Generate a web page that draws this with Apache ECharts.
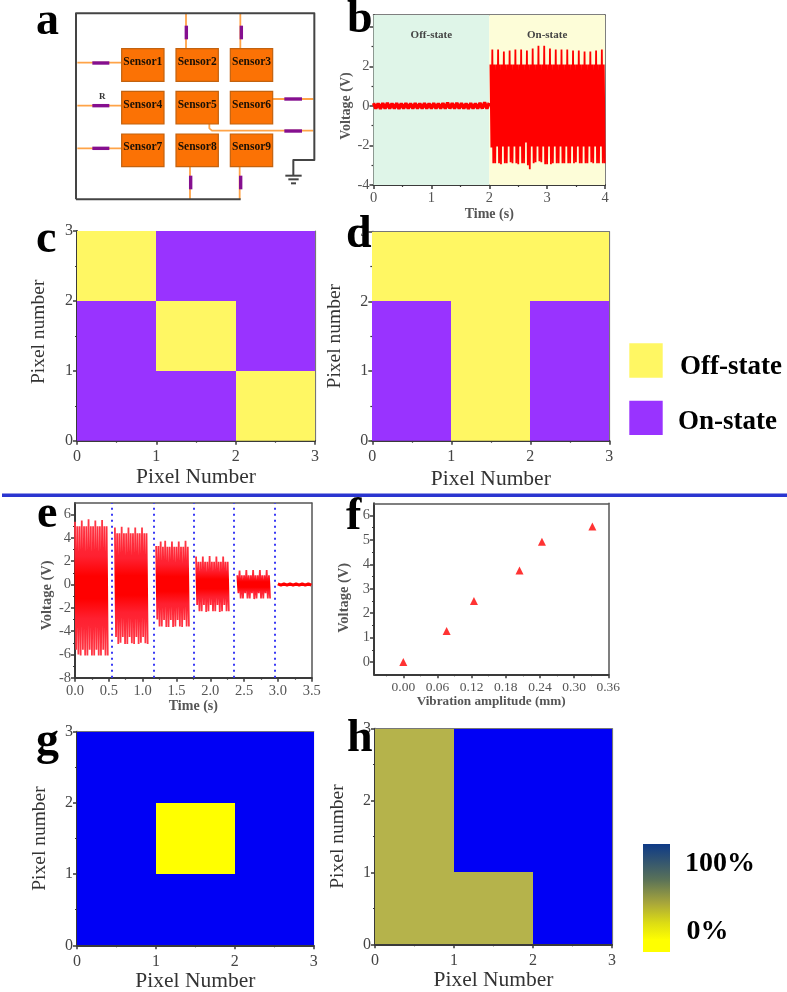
<!DOCTYPE html>
<html><head><meta charset="utf-8">
<style>html,body{margin:0;padding:0;background:#fff}#chart{width:787px;height:992px;filter:blur(0.45px)}</style>
<script src="https://cdn.jsdelivr.net/npm/echarts@6/dist/echarts.min.js"></script>
</head><body><div id="chart"></div>
<script>
// ---------- panel a : schematic ----------
const sensorNames = ['Sensor1','Sensor2','Sensor3','Sensor4','Sensor5','Sensor6','Sensor7','Sensor8','Sensor9'];
const sensorColumns = [365, 528, 691];
const sensorRows = [146, 274, 402];
const wirePaths = [[[232,188],[365,188]],[[232,317],[365,317]],[[232,445],[365,445]],[[558,40],[558,146]],[[721,40],[721,146]],[[808,297],[940,297]],[[628,352],[628,385],[636,392],[940,392]],[[570,490],[570,598]],[[719,490],[719,598]]];
const resistorPaths = [[[277,189],[328,189]],[[277,317],[328,317]],[[277,445],[328,445]],[[559,77],[559,118]],[[724,77],[724,118]],[[853,297],[906,297]],[[853,393],[906,393]],[[572,527],[572,568]],[[722,527],[722,568]]];
const framePaths = [[[228,598],[228,40],[943,40],[943,480],[880,480],[880,527]],[[228,598],[722,598]],[[856,527],[905,527]],[[865,538],[896,538]],[[873,550],[888,550]]];

// ---------- panel b ----------
const bOffVoltage = [0.14,-0.14,0.13,-0.15,0.14,-0.13,0.15,-0.14,0.13,-0.14,0.14,-0.15,0.13,-0.13,0.14,-0.14,0.13,-0.14,0.14,-0.13,0.13,-0.14,0.14,-0.13,0.13,-0.14,0.14,-0.14,0.13,-0.13,0.14,-0.14,0.17,-0.13,0.14,-0.14,0.16,-0.13,0.14,-0.14,0.13,-0.15,0.14,-0.13,0.13,-0.14,0.15,-0.13,0.18,-0.14,0.16];
const bOnVoltage = [
2.1,-2.1,2.85,-2.9,2.1,-2.9, 2.1,-2.05,2.85,-2.9,2.1,-2.95, 2.1,-2.05,2.75,-2.9,2.1,-2.9, 2.1,-2.05,2.8,-2.85,2.1,-2.9,
2.1,-2.05,2.85,-2.9,2.1,-2.95, 2.1,-2.05,2.85,-2.9,2.1,-2.9, 2.1,-1.85,2.8,-3.0,2.1,-3.2, 2.1,-2.05,2.9,-2.9,2.1,-2.85,
2.1,-2.05,3.05,-2.8,2.1,-2.85, 2.1,-2.05,3.05,-2.95,2.1,-2.95, 2.1,-2.05,2.9,-2.95,2.1,-2.9, 2.1,-2.05,2.85,-2.9,2.1,-2.9,
2.1,-2.05,2.85,-2.9,2.1,-2.9, 2.1,-2.05,2.85,-2.9,2.1,-2.9, 2.1,-2.05,2.8,-2.9,2.1,-2.85, 2.1,-2.05,2.8,-2.9,2.1,-2.9,
2.1,-2.05,2.75,-2.9,2.1,-2.9, 2.1,-2.05,2.75,-2.85,2.1,-2.9, 2.1,-2.05,2.8,-2.9,2.1,-2.9, 2.1,-2.05,2.85,-2.9,2.1,-2.9];
const bXTicks=[0,1,2,3,4], bXMinor=[0.5,1.5,2.5,3.5];
const bYTicks=[-4,-2,0,2,4], bYLabels=[-4,-2,0,2], bYMinor=[-3,-1,1,3];

// ---------- panel e ----------
const eBurst1 = [5.4,-5.6,5.0,-6.0,5.0,-6.1, 5.5,-5.6,5.0,-6.1,5.0,-6.1, 5.6,-5.6,5.0,-6.1,5.0,-6.1, 5.5,-5.6,5.0,-6.1,5.0,-6.1, 5.55,-5.6,5.0,-6.1,5.0,-6.1];
const eBurst2 = [4.9,-4.5,4.4,-5.1,4.4,-5.0, 4.95,-4.5,4.4,-5.1,4.4,-5.1, 4.9,-4.5,4.4,-5.05,4.4,-5.1, 4.9,-4.5,4.4,-5.1,4.4,-5.0, 4.9,-4.5,4.4,-5.05,4.4,-5.1];
const eBurst3 = [3.3,-3.0,3.3,-3.6,3.7,-3.6, 3.25,-3.05,3.75,-3.65,3.25,-3.65, 3.25,-3.05,3.7,-3.65,3.25,-3.6, 3.25,-3.05,3.7,-3.6,3.25,-3.65, 3.25,-3.05,3.75,-3.6,3.25,-3.6];
const eBurst4 = [2.4,-1.75,1.95,-2.3,1.95,-2.3, 2.4,-1.75,1.95,-2.35,1.95,-2.3, 2.45,-1.75,1.95,-2.3,1.95,-2.3, 2.4,-1.75,1.95,-2.35,1.95,-2.3, 2.4,-1.75,1.95,-2.3,1.95,-2.3];
const eBurst5 = [0.8,-0.75,1.2,-1.2,0.8,-1.2, 0.8,-0.75,1.25,-1.2,0.8,-1.2, 0.8,-0.75,1.25,-1.25,0.8,-1.2, 0.8,-0.75,1.25,-1.2,0.8,-1.2, 0.8,-0.75,1.25,-1.2,0.8,-1.2];
const eBurst6 = [0.06,-0.06,0.06,-0.06,0.06,-0.06,0.06,-0.06,0.06,-0.06,0.06,-0.06];
const eBurstStarts = [0.0,0.59,1.2,1.79,2.4,3.0];
const eBurstSteps = [0.0167,0.0167,0.0167,0.0167,0.0167,0.045];
const eDividers = [0.54,1.16,1.75,2.35,2.95];
const eXTicks=[0,0.5,1,1.5,2,2.5,3,3.5], eXMinor=[0.25,0.75,1.25,1.75,2.25,2.75,3.25];
const eYTicks=[-8,-6,-4,-2,0,2,4,6], eYMinor=[-7,-5,-3,-1,1,3,5];

// ---------- panel f ----------
const fAmplitude = [0,0.076,0.124,0.204,0.2435,0.332];
const fVoltage = [0,1.27,2.5,3.75,4.93,5.55];
const fXTicks=[0,0.06,0.12,0.18,0.24,0.3,0.36], fXMinor=[-0.03,0.03,0.09,0.15,0.21,0.27,0.33];
const fYTicks=[0,1,2,3,4,5,6], fYMinor=[0.5,1.5,2.5,3.5,4.5,5.5];

// ---------- pixel maps (top row first) ----------
const pixelTicks=[0,1,2,3], pixelMinor=[0.5,1.5,2.5];
const matrixC=[[0,1,1],[1,0,1],[1,1,0]];
const matrixD=[[0,0,0],[1,0,1],[1,0,1]];
const matrixG=[[2,2,2],[2,0,2],[2,2,2]];
const matrixH=[[3,2,2],[3,2,2],[3,3,2]];
const statePalette=['#fff763','#9933ff'];
const paletteGH=['#ffff00','#9933ff','#0000f5','#b5b34b'];

const SERIF='"Liberation Serif","Times New Roman",serif';
const xAxes=[],yAxes=[],grids=[],series=[];

function addPanel(o){
  const g=grids.length;
  grids.push({left:o.l,top:o.t,width:o.r-o.l,height:o.b-o.t,outerBoundsMode:'none'});
  const idx=xAxes.length;
  const blank=(min,max,pos)=>({type:'value',gridIndex:g,min,max,position:pos,silent:true,splitLine:{show:false},axisLine:{show:false,onZero:false},axisTick:{show:false},axisLabel:{show:false}});
  const main=(d,pos)=>Object.assign(blank(d.min,d.max,pos),{
    axisLine:{show:true,onZero:false,lineStyle:{color:'#3a3a3a',width:o.axisWidth||2}},
    axisTick:{show:true,length:o.tickLen||4,customValues:d.ticks,lineStyle:{color:'#3a3a3a',width:1.5}},
    axisLabel:{show:true,customValues:d.labels||d.ticks,fontFamily:SERIF,fontSize:d.fontSize,color:o.labelColor||'#555',margin:d.margin,hideOverlap:false,formatter:d.fmt||(v=>String(v))},
    name:d.name,nameLocation:'middle',nameGap:d.nameGap,
    nameTextStyle:{fontFamily:SERIF,fontSize:d.nameSize,color:o.nameColor||'#555',fontWeight:d.nameWeight||'normal',
      padding:d.shift?(d.shift>0?[0,2*d.shift,0,0]:[0,0,0,-2*d.shift]):0}
  });
  const minor=(d,pos)=>Object.assign(blank(d.min,d.max,pos),{axisTick:{show:true,length:2,customValues:d.minor,lineStyle:{color:'#3a3a3a',width:1.2}}});
  const frame=(d,pos)=>Object.assign(blank(d.min,d.max,pos),{axisLine:{show:true,onZero:false,lineStyle:{color:o.frameColor||'#555',width:o.frameWidth||1.5}}});
  xAxes.push(main(o.x,'bottom'),minor(o.x,'bottom'),frame(o.x,'top'));
  yAxes.push(main(o.y,'left'),minor(o.y,'left'),frame(o.y,'right'));
  return idx;
}
function addPixelMap(box,matrix,palette,fonts){
  const i=addPanel(Object.assign({},box,{labelColor:'#444',nameColor:'#333',frameColor:'#777',frameWidth:1.2,
    x:{min:0,max:3,ticks:pixelTicks,minor:pixelMinor,fontSize:16,margin:8.5,name:'Pixel Number',nameGap:fonts.xGap,nameSize:21.5},
    y:{min:0,max:3,ticks:pixelTicks,minor:pixelMinor,fontSize:16,margin:4,name:'Pixel number',nameGap:fonts.yGap,nameSize:19.5,shift:fonts.yShift}}));
  const cells=[];
  matrix.forEach((row,r)=>row.forEach((v,c)=>cells.push([c,2-r,v])));
  series.push({type:'custom',xAxisIndex:i,yAxisIndex:i,data:cells,clip:true,silent:true,z:1,
    renderItem:(p,api)=>{
      const a=api.coord([api.value(0),api.value(1)+1]),b=api.coord([api.value(0)+1,api.value(1)]);
      const x0=Math.round(a[0]),y0=Math.round(a[1]),x1=Math.round(b[0]),y1=Math.round(b[1]);
      return {type:'rect',shape:{x:x0,y:y0,width:x1-x0,height:y1-y0},style:{fill:palette[api.value(2)]}};
    }});
}
const sampled=(start,step,vals)=>vals.map((v,k)=>[start+k*step,v]);

// panel a (hidden axes, units of the drawing)
(function(){
  const g=grids.length;
  grids.push({left:0,top:0,width:340,height:220,outerBoundsMode:'none'});
  const i=xAxes.length;
  const hid=(max,inv)=>({type:'value',gridIndex:g,min:0,max,inverse:!!inv,show:false});
  xAxes.push(hid(1020));yAxes.push(hid(660,true));
  series.push({type:'custom',xAxisIndex:i,yAxisIndex:i,data:[[0,0]],silent:true,clip:false,z:3,
    renderItem:(p,api)=>{
      const kids=[];
      const poly=(pts,stroke,w)=>kids.push({type:'polyline',shape:{points:pts.map(q=>api.coord(q))},style:{stroke,lineWidth:w,fill:null,lineJoin:'round'}});
      wirePaths.forEach(w=>poly(w,'#ffa347',1.8));
      framePaths.forEach(w=>poly(w,'#444',2));
      resistorPaths.forEach(w=>poly(w,'#850f8f',3.4));
      sensorNames.forEach((name,n)=>{
        const a=api.coord([sensorColumns[n%3],sensorRows[Math.floor(n/3)]]);
        const b=api.coord([sensorColumns[n%3]+127,sensorRows[Math.floor(n/3)]+98]);
        kids.push({type:'rect',shape:{x:a[0],y:a[1],width:b[0]-a[0],height:b[1]-a[1]},style:{fill:'#fb7205',stroke:'#c2620f',lineWidth:1.2}});
        kids.push({type:'text',style:{x:(a[0]+b[0])/2,y:(a[1]+b[1])/2-3,text:name,font:'bold 11.5px '+SERIF,fill:'#1a1005',align:'center',verticalAlign:'middle'}});
      });
      const r=api.coord([307,290]);
      kids.push({type:'text',style:{x:r[0],y:r[1],text:'R',font:'bold 9px '+SERIF,fill:'#333',align:'center',verticalAlign:'middle'}});
      return {type:'group',children:kids};
    }});
})();

// panel b
const stateLabel=t=>({show:true,formatter:t,position:'insideTop',distance:15,fontFamily:SERIF,fontSize:11,fontWeight:'bold',color:'#444'});
const bi=addPanel({l:373.5,r:605,t:15,b:185,
  x:{min:0,max:4,ticks:bXTicks,minor:bXMinor,fontSize:14.5,margin:6,name:'Time (s)',nameGap:20,nameSize:14,nameWeight:'bold'},
  y:{min:-4,max:4.6,ticks:bYTicks,labels:bYLabels,minor:bYMinor,fontSize:14.5,margin:4,name:'Voltage (V)',nameGap:20,nameSize:14,nameWeight:'bold',shift:6}});
series.push({type:'line',xAxisIndex:bi,yAxisIndex:bi,data:sampled(0,0.04,bOffVoltage),showSymbol:false,silent:true,z:3,lineStyle:{color:'#ff0000',width:3.4},
  markArea:{silent:true,data:[[{xAxis:0,itemStyle:{color:'#dff5e8'},label:stateLabel('Off-state')},{xAxis:2}],
    [{xAxis:2,itemStyle:{color:'#fdfdd8'},label:stateLabel('On-state')},{xAxis:4}]]}});
series.push({type:'line',xAxisIndex:bi,yAxisIndex:bi,data:sampled(2.02,0.0166,bOnVoltage),showSymbol:false,silent:true,z:3,lineStyle:{color:'#ff0000',width:1.8}});

// panel c, d
addPixelMap({l:77,r:315,t:231,b:440.7},matrixC,statePalette,{xGap:25.5,yGap:28,yShift:-4});
addPixelMap({l:372.3,r:609.3,t:231.7,b:440.7},matrixD,statePalette,{xGap:27.5,yGap:27,yShift:0});

// panel e
const ei=addPanel({l:75,r:311.7,t:503,b:677.7,
  x:{min:0,max:3.5,ticks:eXTicks,minor:eXMinor,fontSize:14.5,margin:6,fmt:v=>v.toFixed(1),name:'Time (s)',nameGap:21,nameSize:14,nameWeight:'bold'},
  y:{min:-8,max:7,ticks:eYTicks,minor:eYMinor,fontSize:14.5,margin:4,name:'Voltage (V)',nameGap:18,nameSize:14.5,nameWeight:'bold',shift:5}});
const burstFade=()=>new echarts.graphic.LinearGradient(0,0,0,1,[{offset:0,color:'#ff3a48'},{offset:0.28,color:'#ff2030'},{offset:0.42,color:'#ff0000'},{offset:0.58,color:'#ff0000'},{offset:0.72,color:'#ff2030'},{offset:1,color:'#ff3a48'}]);
[eBurst1,eBurst2,eBurst3,eBurst4,eBurst5,eBurst6].forEach((b,k)=>{
  series.push({type:'line',xAxisIndex:ei,yAxisIndex:ei,data:sampled(eBurstStarts[k],eBurstSteps[k],b),showSymbol:false,silent:true,z:3,lineStyle:{color:k===5?'#ff0000':burstFade(),width:k===5?3:1.8}});
});
series[series.length-1].markLine={silent:true,symbol:'none',label:{show:false},lineStyle:{color:'#3a3af5',type:[2,4],width:2},data:eDividers.map(x=>({xAxis:x}))};

// panel f
const fi=addPanel({l:374,r:608.3,t:503.3,b:674.3,
  x:{min:-0.0515,max:0.36,ticks:fXTicks,minor:fXMinor,fontSize:13.5,margin:6,fmt:v=>v.toFixed(2),name:'Vibration amplitude (mm)',nameGap:20,nameSize:13.2,nameWeight:'bold'},
  y:{min:-0.5,max:6.5,ticks:fYTicks,minor:fYMinor,fontSize:14.5,margin:4,name:'Voltage (V)',nameGap:22,nameSize:14.5,nameWeight:'bold',shift:9}});
series.push({type:'scatter',xAxisIndex:fi,yAxisIndex:fi,data:fAmplitude.map((x,k)=>[x,fVoltage[k]]),symbol:'triangle',symbolSize:8,silent:true,z:3,itemStyle:{color:'#ff0000'}});

// panel g, h
addPixelMap({l:77,r:313.7,t:731.7,b:945.3},matrixG,paletteGH,{xGap:25,yGap:27,yShift:0});
addPixelMap({l:375,r:612,t:728.7,b:944.3},matrixH,paletteGH,{xGap:25.5,yGap:27,yShift:0});

// letters, divider, keys (y = text baseline)
const baselineText=(t,x,y,s)=>({type:'text',z:60,x,y:y-0.25*s,style:{text:t,font:'bold '+s+'px '+SERIF,fill:'#000',align:'left',verticalAlign:'middle'}});
const letters=[['a',36,34,46],['b',347,32,46],['c',36,252,46],['d',346,247,46],['e',37,527,46],['f',346,529,46],['g',36,754,46],['h',347,751,46]];
const graphics=[{type:'rect',z:50,shape:{x:2,y:493.5,width:785,height:3.5},style:{fill:'#2a35d0'}}];
letters.forEach(l=>graphics.push(baselineText(...l)));
const keyBlocks=[[629.3,343.3,33.4,34.4,'#fff763'],[629.3,400.7,33.4,34.3,'#9933ff']];
keyBlocks.forEach(([x,y,w,h,c])=>graphics.push({type:'rect',z:50,shape:{x,y,width:w,height:h},style:{fill:c}}));
const keyTexts=[['Off-state',680,374,27],['On-state',678,429,27],['100%',685,871,28],['0%',686.5,939,28]];
keyTexts.forEach(l=>graphics.push(baselineText(...l)));
graphics.push({type:'rect',z:50,shape:{x:643,y:844,width:27,height:108},style:{fill:new echarts.graphic.LinearGradient(0,0,0,1,[{offset:0,color:'#0e3a87'},{offset:0.33,color:'#5a7258'},{offset:0.55,color:'#a9a73a'},{offset:0.73,color:'#dcdc14'},{offset:0.89,color:'#ffff00'},{offset:1,color:'#ffff00'}])}});

const chart=echarts.init(document.getElementById('chart'),null,{renderer:'canvas'});
chart.setOption({animation:false,backgroundColor:'#fff',grid:grids,xAxis:xAxes,yAxis:yAxes,series,graphic:{elements:graphics},tooltip:{show:false},legend:{show:false}});
</script>
</body></html>
